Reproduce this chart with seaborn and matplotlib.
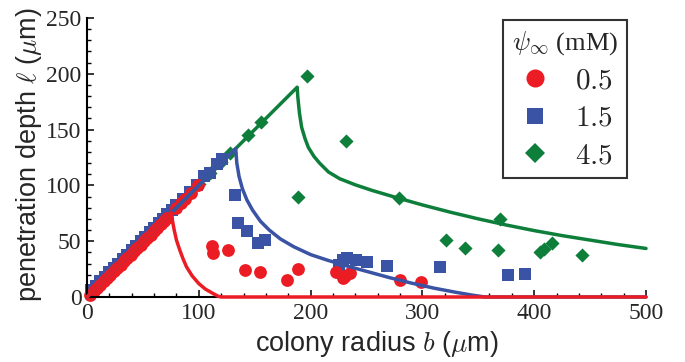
import numpy as np
import pandas as pd
import matplotlib
matplotlib.use("Agg")
import matplotlib.pyplot as plt
from matplotlib.lines import Line2D
from matplotlib.ticker import MultipleLocator
import seaborn as sns

# ---------------- data ----------------
concentrations = ["0.5", "1.5", "4.5"]

# measured points: scattered (below threshold) and along the diagonal
red_b = [111.5, 112.5, 126, 141, 155, 178.5, 189, 223, 231, 235, 229, 280, 299,
         3, 6, 9, 12, 15, 18, 21, 24, 27, 30, 33, 36, 39, 42, 45, 48, 51, 54, 57,
         60, 63, 66, 69, 72, 80, 84, 88, 93, 99]
red_l = [45.5, 39, 42, 24, 22, 15, 25, 22.5, 19, 21.5, 17, 15, 13.5,
         2, 5, 8, 11, 14, 17, 20, 23, 26, 29, 32, 35, 38, 41, 44, 47, 50, 53, 56,
         59, 62, 65, 68, 71, 80, 84, 88, 93, 100]

blue_b = [132, 135.5, 143.5, 153, 159, 225, 229, 233, 241, 250, 268, 316, 377, 392,
          4, 8, 12, 16, 20, 24, 28, 32, 36, 40, 44, 48, 52, 56, 60, 64, 68, 72, 76,
          80, 86, 92, 98, 105, 110, 116, 121]
blue_l = [91, 66, 59, 48, 51, 28.5, 33, 34.5, 33, 31.5, 28, 26.5, 19.5, 20.5,
          6, 10, 14, 18, 22, 26, 30, 34, 38, 42, 46, 50, 54, 58, 62, 66, 70, 74, 78,
          82, 88, 94, 100, 108, 111, 119, 124]

green_b = [197, 232, 189, 279, 369.5, 321.5, 338.5, 368, 405, 409, 415.5, 442.5,
           5, 12, 20, 28, 36, 44, 52, 60, 70, 80, 90, 100, 110, 120, 128, 144, 156]
green_l = [198, 139.5, 89.5, 89, 69.5, 51.5, 43.5, 42, 40.5, 43, 48, 37.5,
           6, 13, 21, 29, 37, 45, 53, 61, 71, 81, 91, 101, 111, 121, 129, 145, 157]

# theory curves
red_curve_b = [0, 75.5, 76.5, 78, 80, 83, 86, 89, 94, 100, 106, 113, 117, 120, 500]
red_curve_l = [0, 75.5, 68, 60, 51, 42, 34, 27, 19, 12, 7, 3, 0.8, 0, 0]

blue_curve_b = [0, 133, 134, 136, 139, 143, 148, 155, 163, 173, 185, 200, 215, 230,
                250, 270, 290, 310, 330, 345, 356, 500]
blue_curve_l = [0, 133, 120, 108, 97, 87, 78, 68, 60, 52, 45, 38, 33, 28.5,
                23, 17.5, 12.5, 8, 4.2, 1.6, 0, 0]

green_curve_b = [0, 188, 188.5, 190, 192, 195, 198, 203, 208, 216, 226, 240, 255,
                 277, 300, 325, 350, 375, 400, 425, 450, 475, 500]
green_curve_l = [0, 188, 180, 165, 152, 142, 134, 126, 120, 112, 106, 100.5, 95.5,
                 89, 82.5, 76, 70, 64.5, 59.5, 55, 51, 47, 43.5]

colors = {"0.5": "#EC1C24", "1.5": "#3A53A4", "4.5": "#0E7F3B"}
markers = {"0.5": "o", "1.5": "s", "4.5": "D"}
sizes = {"0.5": 85, "1.5": 78, "4.5": 52}

points = pd.concat([
    pd.DataFrame({"b": red_b, "l": red_l, "psi": "0.5"}),
    pd.DataFrame({"b": blue_b, "l": blue_l, "psi": "1.5"}),
    pd.DataFrame({"b": green_b, "l": green_l, "psi": "4.5"}),
])
curves = {
    "0.5": pd.DataFrame({"b": red_curve_b, "l": red_curve_l}),
    "1.5": pd.DataFrame({"b": blue_curve_b, "l": blue_curve_l}),
    "4.5": pd.DataFrame({"b": green_curve_b, "l": green_curve_l}),
}

# ---------------- figure ----------------
sns.set_style("white")
plt.rcParams["mathtext.fontset"] = "cm"
plt.rcParams["font.family"] = ["Liberation Sans", "DejaVu Sans"]

fig = plt.figure(figsize=(6.85, 3.62), dpi=100)
ax = fig.add_axes([87 / 685, 1 - 297 / 362, (646 - 87) / 685, (297 - 18) / 362])

for c in ["4.5", "1.5", "0.5"]:
    sub = points[points["psi"] == c]
    sns.scatterplot(data=sub, x="b", y="l", color=colors[c], marker=markers[c],
                    s=sizes[c], linewidth=0, ax=ax, zorder=2, clip_on=False,
                    legend=False)

for c in ["4.5", "1.5", "0.5"]:
    sns.lineplot(data=curves[c], x="b", y="l", color=colors[c], lw=2.5,
                 sort=False, estimator=None, ax=ax, zorder=4, clip_on=False)

ax.set_xlim(0, 500)
ax.set_ylim(0, 250)
ax.xaxis.set_major_locator(MultipleLocator(100))
ax.xaxis.set_minor_locator(MultipleLocator(20))
ax.yaxis.set_major_locator(MultipleLocator(50))
ax.yaxis.set_minor_locator(MultipleLocator(10))

for s in ["top", "right"]:
    ax.spines[s].set_visible(False)
for s in ["left", "bottom"]:
    ax.spines[s].set_color("black")
    ax.spines[s].set_linewidth(1.5)

ax.tick_params(which="both", direction="in", left=True, bottom=True,
               top=False, right=False, color="black")
ax.tick_params(which="major", length=5, width=1.1, labelsize=17, pad=4)
ax.tick_params(which="minor", length=2.8, width=1.0)
for lab in ax.get_xticklabels() + ax.get_yticklabels():
    lab.set_fontfamily("Liberation Serif")

ax.set_xlabel(r"colony radius $b$ ($\mu$m)", fontsize=19.5)
ax.set_ylabel(r"penetration depth $\ell$ ($\mu$m)", fontsize=19.5)
ax.xaxis.set_label_coords(0.518, -0.115)
ax.yaxis.set_label_coords(-0.077, 0.51)

handles = [Line2D([], [], linestyle="none", marker=markers[c], color=colors[c],
                  markersize={"0.5": 13, "1.5": 12, "4.5": 10}[c], markeredgewidth=0)
           for c in concentrations]
leg = ax.legend(handles, [f"${c}$" for c in concentrations],
                title=r"$\psi_\infty$ (mM)", loc="upper right",
                bbox_to_anchor=(0.966, 0.993), frameon=True, fancybox=False,
                edgecolor="black", fontsize=21, handletextpad=0.8,
                borderpad=0.3, labelspacing=0.33, handlelength=1.2,
                borderaxespad=0)
leg.get_frame().set_linewidth(1.5)
leg.get_title().set_fontsize(19)
leg.get_title().set_fontfamily("Liberation Serif")

fig.savefig("out.png", dpi=100)
